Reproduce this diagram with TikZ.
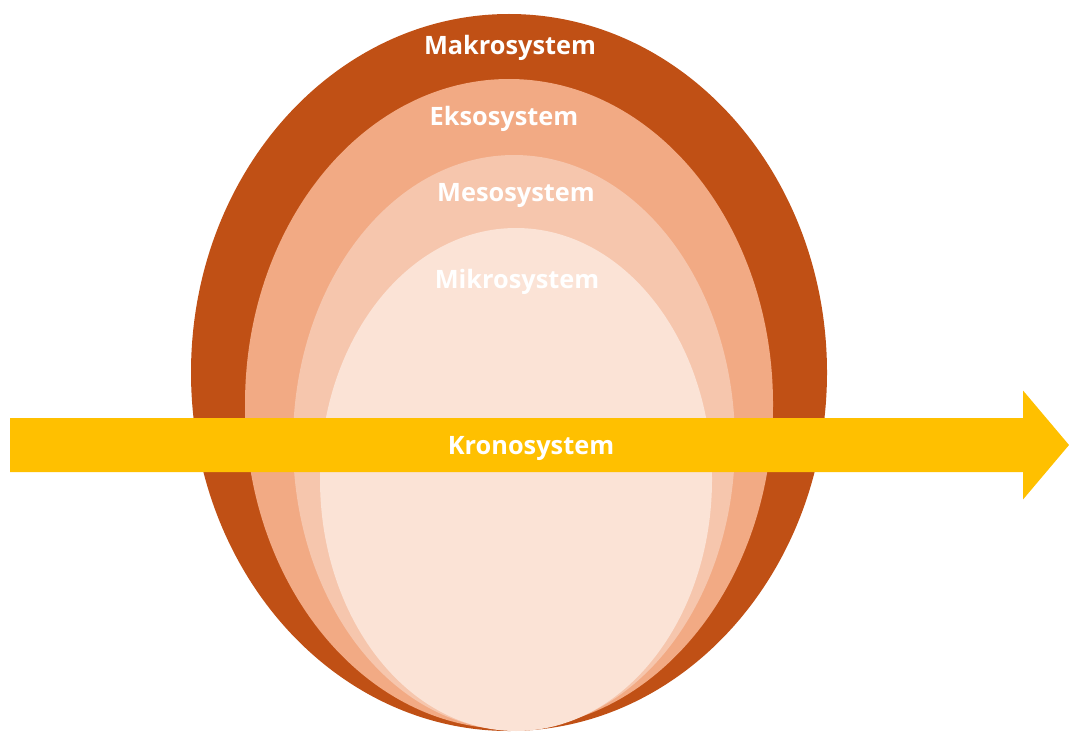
\documentclass[tikz,border=0pt]{standalone}
\usepackage{fontspec}
\setmainfont{Open Sans}
\definecolor{makro}{HTML}{C05015}
\definecolor{ekso}{HTML}{F2AA84}
\definecolor{meso}{HTML}{F6C6AD}
\definecolor{mikro}{HTML}{FBE3D6}
\definecolor{krono}{HTML}{FFC000}
\tikzset{
  lbl/.style={text=white, font=\fontsize{19}{23}\selectfont\bfseries, inner sep=0pt, anchor=base},
}
\begin{document}
\begin{tikzpicture}[x=0.75pt,y=-0.75pt]
\useasboundingbox (0,0) rectangle (1069,731);
% nested ellipses
\fill[makro] (509,372.5) ellipse [x radius=318, y radius=358.5];
\fill[ekso]  (509,404)   ellipse [x radius=264, y radius=325];
\fill[meso]  (514,442.5) ellipse [x radius=221, y radius=287.5];
\fill[mikro] (516,479.5) ellipse [x radius=196, y radius=251.5];
% arrow
\fill[krono] (10,418) -- (1023,418) -- (1023,390.5) -- (1069,445) -- (1023,499.5) -- (1023,472) -- (10,472) -- cycle;
% labels
\node[lbl] (makro) at (510,55) {Makrosystem};
\node[lbl] (ekso)  at (504,126) {Eksosystem};
\node[lbl] (meso)  at (516,201) {Mesosystem};
\node[lbl] (mikro) at (517,288) {Mikrosystem};
\node[lbl] (krono) at (531,454) {Kronosystem};
\end{tikzpicture}
\end{document}
